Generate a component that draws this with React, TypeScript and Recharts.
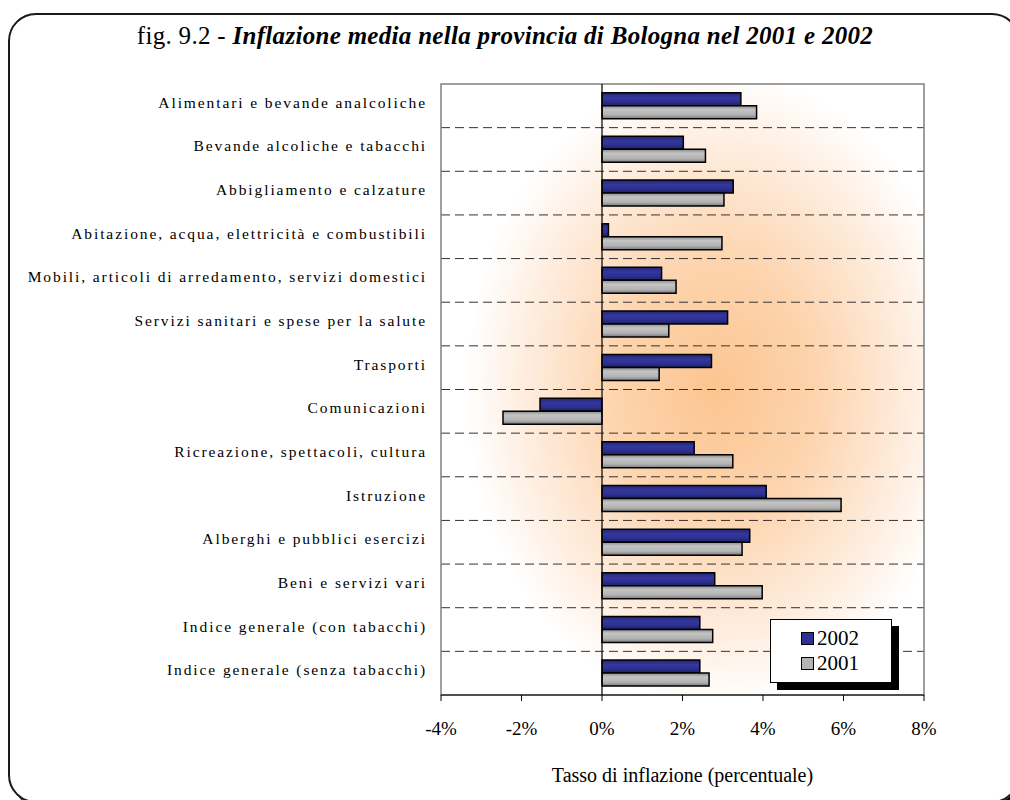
import React from 'react';
import {
  BarChart,
  Bar,
  XAxis,
  YAxis,
  CartesianGrid,
  ReferenceLine,
  ReferenceArea,
} from 'recharts';

const CATEGORIES = [
  'Alimentari e bevande analcoliche',
  'Bevande alcoliche e tabacchi',
  'Abbigliamento e calzature',
  'Abitazione, acqua, elettricità e combustibili',
  'Mobili, articoli di arredamento, servizi domestici',
  'Servizi sanitari e spese per la salute',
  'Trasporti',
  'Comunicazioni',
  'Ricreazione, spettacoli, cultura',
  'Istruzione',
  'Alberghi e pubblici esercizi',
  'Beni e servizi vari',
  'Indice generale (con tabacchi)',
  'Indice generale (senza tabacchi)',
];

const VALUES_2002 = [3.45, 2.02, 3.26, 0.16, 1.48, 3.12, 2.72, -1.54, 2.29, 4.08, 3.67, 2.8, 2.43, 2.43];
const VALUES_2001 = [3.84, 2.57, 3.03, 2.98, 1.84, 1.66, 1.42, -2.46, 3.25, 5.94, 3.48, 3.98, 2.75, 2.66];

const X_TICKS = [-4, -2, 0, 2, 4, 6, 8];

const SERIES = [
  { key: 'y2002', label: '2002', swatch: '#2E3192' },
  { key: 'y2001', label: '2001', swatch: '#B3B3B3' },
];

const data = CATEGORIES.map((name, i) => ({
  name,
  y2002: VALUES_2002[i],
  y2001: VALUES_2001[i],
}));

const SERIF = '"Liberation Serif", "DejaVu Serif", serif';

const CategoryTick = ({ x, y, payload }: any) => (
  <text
    x={x}
    y={y}
    dy={2}
    textAnchor="end"
    fontFamily={SERIF}
    fontSize={15.5}
    letterSpacing={1.9}
    fill="#000"
  >
    {payload.value}
  </text>
);

// dashed separators between categories, not through their centres
const boundaryLines = ({ offset }: any) => {
  const step = offset.height / CATEGORIES.length;
  const out: number[] = [];
  for (let i = 1; i < CATEGORIES.length; i++) out.push(offset.top + i * step);
  return out;
};

const LegendBox = () => (
  <div style={{ position: 'absolute', left: 770, top: 619, width: 130, height: 72 }}>
    <div
      style={{
        position: 'absolute',
        left: 7,
        top: 7,
        width: 122,
        height: 64,
        background: '#000',
      }}
    />
    <div
      style={{
        position: 'absolute',
        left: 0,
        top: 0,
        width: 122,
        height: 64,
        background: '#fff',
        border: '1px solid #000',
        fontFamily: SERIF,
        fontSize: 21,
        lineHeight: '25px',
        paddingTop: 6,
        boxSizing: 'border-box',
      }}
    >
      {SERIES.map((it) => (
        <div key={it.label} style={{ display: 'flex', alignItems: 'center', paddingLeft: 30 }}>
          <span
            style={{
              display: 'inline-block',
              width: 11,
              height: 11,
              background: it.swatch,
              border: '1.5px solid #000',
              marginRight: 3,
            }}
          />
          {it.label}
        </div>
      ))}
    </div>
  </div>
);

export default function App() {
  return (
    <div
      style={{
        position: 'absolute',
        left: 0,
        top: 0,
        width: 1010,
        height: 800,
        overflow: 'hidden',
        background: '#fff',
      }}
    >
      <div
        style={{
          position: 'absolute',
          left: 8,
          top: 13,
          width: 1012,
          height: 790,
          border: '2px solid #1a1a1a',
          borderRadius: 28,
          boxSizing: 'border-box',
          boxShadow: '4px 4px 0 #000',
        }}
      />
      <div
        style={{
          position: 'absolute',
          left: 0,
          top: 22,
          width: 1010,
          textAlign: 'center',
          fontFamily: SERIF,
          fontSize: 25,
          color: '#000',
          letterSpacing: 0.3,
        }}
      >
        fig. 9.2 - <i style={{ fontWeight: 600 }}>Inflazione media nella provincia di Bologna nel 2001 e 2002</i>
      </div>
      <div style={{ position: 'absolute', left: 0, top: 0 }}>
        <BarChart
          width={1010}
          height={800}
          data={data}
          layout="vertical"
          margin={{ top: 84, right: 86, bottom: 0, left: 0 }}
          barCategoryGap="20%"
          barGap={0}
        >
          <defs>
            <radialGradient id="bgGlow" cx="0.57" cy="0.5" r="0.52">
              <stop offset="0%" stopColor="#FCC590" />
              <stop offset="40%" stopColor="#FDD4AE" />
              <stop offset="75%" stopColor="#FEECDD" />
              <stop offset="100%" stopColor="#FFFFFF" />
            </radialGradient>
            <linearGradient id="bar2002" x1="0" y1="0" x2="0" y2="1">
              <stop offset="0%" stopColor="#232574" />
              <stop offset="35%" stopColor="#34379C" />
              <stop offset="65%" stopColor="#2E3192" />
              <stop offset="100%" stopColor="#1E2066" />
            </linearGradient>
            <linearGradient id="bar2001" x1="0" y1="0" x2="0" y2="1">
              <stop offset="0%" stopColor="#8C8C8C" />
              <stop offset="30%" stopColor="#C4C4C4" />
              <stop offset="70%" stopColor="#B3B3B3" />
              <stop offset="100%" stopColor="#7A7A7A" />
            </linearGradient>
          </defs>
          <CartesianGrid
            vertical={false}
            fill="url(#bgGlow)"
            stroke="#333"
            strokeDasharray="9 5"
            horizontalCoordinatesGenerator={boundaryLines}
          />
          <ReferenceArea x1={-4} x2={8} fill="none" stroke="#808080" strokeWidth={1.5} />
          <XAxis
            type="number"
            domain={[-4, 8]}
            ticks={X_TICKS}
            tickFormatter={(v: number) => `${v}%`}
            axisLine={{ stroke: '#000' }}
            tickLine={{ stroke: '#000' }}
            tickSize={6}
            tickMargin={21}
            tick={{ fontFamily: SERIF, fontSize: 19, fill: '#000' }}
            label={{
              value: 'Tasso di inflazione (percentuale)',
              position: 'insideBottom',
              offset: 18,
              style: { fontFamily: SERIF, fontSize: 20, fill: '#000' },
            }}
            height={105}
          />
          <YAxis
            type="category"
            dataKey="name"
            width={441}
            axisLine={false}
            tickLine={false}
            tickSize={0}
            tickMargin={14}
            interval={0}
            tick={<CategoryTick />}
          />
          <ReferenceLine x={0} stroke="#000" strokeWidth={1.2} />
          {SERIES.map((s) => (
            <Bar
              key={s.key}
              dataKey={s.key}
              name={s.label}
              fill={`url(#bar${s.label})`}
              stroke="#000"
              strokeWidth={1.5}
              isAnimationActive={false}
            />
          ))}
        </BarChart>
      </div>
      <LegendBox />
    </div>
  );
}
